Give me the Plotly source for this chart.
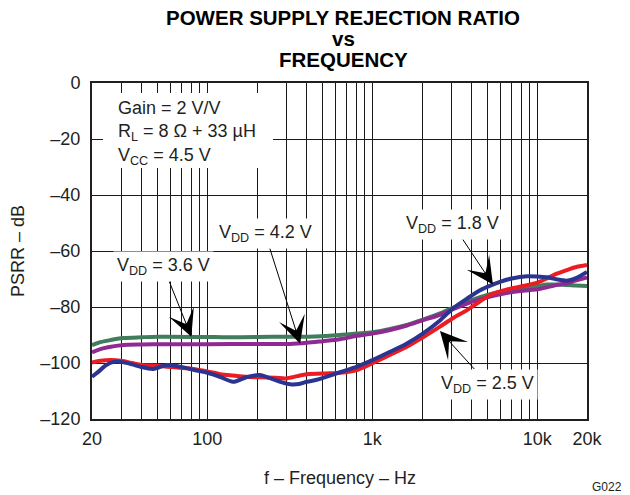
import numpy as np
import plotly.graph_objects as go

# ---------------- data ----------------
freq_18 = [20, 22, 24, 27, 30, 35, 39, 47, 57, 68, 86, 100, 120, 143, 174, 208, 240, 280, 317, 360, 402, 460,
           554, 637, 807, 1000, 1280, 1620, 2030, 2570, 3080, 3750, 4500, 5380, 5940, 7000, 8650, 10000,
           11430, 13000, 15100, 17000, 20000]
psrr_18 = [-104.9, -103.0, -101.0, -99.6, -99.6, -100.5, -101.3, -102.1, -100.7, -101.3, -102.7, -103.5, -105.0,
           -106.7, -105.0, -104.3, -105.4, -106.8, -107.6, -107.5, -106.7, -106.0,
           -104.5, -103.3, -101.3, -99.0, -96.0, -93.0, -89.4, -84.8, -80.5, -77.0, -74.0, -72.0, -71.0, -69.8, -69.0, -69.1,
           -69.4, -70.1, -70.6, -69.8, -67.5]

freq_25 = [20, 22, 26, 30, 35, 40, 50, 57, 70, 82, 100, 120, 143, 175, 208, 260, 300, 350, 400, 554, 637, 807,
           1000, 1280, 1620, 2030, 2570, 3080, 3750, 4500, 5170, 6500, 8180, 10000, 11430, 13000, 15100, 17000, 20000]
psrr_25 = [-99.8, -99.3, -98.9, -99.2, -100.0, -100.7, -101.0, -101.3, -101.8, -102.1, -103.0, -104.0, -104.5,
           -105.0, -105.1, -105.3, -105.5, -104.7, -104.0, -103.7, -103.5, -102.5,
           -100.1, -97.1, -94.2, -90.8, -87.0, -84.0, -81.1, -78.0, -75.7, -73.8, -72.5, -71.3, -69.8, -68.2, -66.8, -65.8, -65.0]

freq_36 = [20, 22, 25, 31, 40, 50, 100, 124, 200, 317, 450, 637, 807, 1000, 1280, 1620, 2030, 2570, 3080, 3750,
           4500, 5170, 6500, 8180, 10000, 11430, 13000, 15100, 17000, 20000]
psrr_36 = [-93.6, -92.7, -92.0, -91.1, -90.8, -90.6, -90.7, -90.8, -90.7, -90.6, -90.5, -90.0, -89.5, -89.0,
           -87.8, -86.4, -84.5, -82.3, -80.3, -78.1, -76.5, -75.4, -74.2, -73.3, -72.6, -72.0, -72.0, -72.1, -72.3, -72.5]

freq_42 = [20, 22, 25, 31, 40, 50, 100, 200, 317, 400, 500, 637, 807, 1000, 1280, 1620, 2030, 2570, 3080, 3750,
           4500, 5170, 6500, 8180, 10000, 11430, 13000, 15100, 17000, 20000]
psrr_42 = [-96.2, -95.2, -94.4, -93.6, -93.4, -93.3, -93.3, -93.2, -93.2, -92.8, -92.2, -91.5, -90.3, -89.5,
           -88.2, -86.6, -84.7, -82.8, -80.8, -78.8, -77.3, -76.3, -75.0, -74.2, -73.7, -73.0, -72.2, -71.5, -70.6, -69.4]

x_tickvals = [20, 100, 1000, 10000, 20000]
x_ticktext = ["20", "100", "1k", "10k", "20k"]
x_minor = [30, 40, 50, 60, 70, 80, 90, 200, 300, 400, 500, 600, 700, 800, 900,
           2000, 3000, 4000, 5000, 6000, 7000, 8000, 9000]
y_tickvals = [0, -20, -40, -60, -80, -100, -120]
y_ticktext = ["0", "\u201320", "\u201340", "\u201360", "\u201380", "\u2013100", "\u2013120"]

title_lines = ["POWER SUPPLY REJECTION RATIO", "vs", "FREQUENCY"]
cond_text = "Gain = 2 V/V<br>R<sub>L</sub> = 8 \u03a9 + 33 \u00b5H<br>V<sub>CC</sub> = 4.5 V"

FONT = "Arial, Liberation Sans, Helvetica, sans-serif"
TXT = "#231f20"
FS = 18

GREEN = "#3f7d5c"
PURPLE = "#8e2a92"
RED = "#ec1c24"
BLUE = "#2b3590"

# plot area in pixels (for placing annotations in paper units)
L, R, T, B = 92, 587, 83, 419
W, H = R - L, B - T


def px(xp):
    return (xp - L) / W


def py(yp):
    return (B - yp) / H


fig = go.Figure()
for f, v, c in [(freq_36, psrr_36, GREEN), (freq_42, psrr_42, PURPLE),
                (freq_25, psrr_25, RED), (freq_18, psrr_18, BLUE)]:
    fig.add_trace(go.Scatter(x=f, y=v, mode="lines",
                             line=dict(color=c, width=4, shape="spline", smoothing=0.8),
                             showlegend=False, hoverinfo="skip"))

fig.update_layout(
    width=630, height=495,
    margin=dict(l=L, r=630 - R, t=T, b=495 - B),
    paper_bgcolor="white", plot_bgcolor="white",
    font=dict(family=FONT, size=FS, color=TXT),
    showlegend=False,
)
fig.update_xaxes(
    type="log", range=[np.log10(20), np.log10(20000)],
    tickvals=x_tickvals, ticktext=x_ticktext,
    showgrid=True, gridcolor="#1a1a1a", gridwidth=1,
    minor=dict(tickvals=x_minor, showgrid=True, gridcolor="#1a1a1a", gridwidth=1, ticks=""),
    ticks="outside", ticklen=2, tickcolor="rgba(0,0,0,0)",
    showline=True, linecolor="#231f20", linewidth=2, mirror=True,
    zeroline=False, tickfont=dict(size=FS),
)
fig.update_yaxes(
    range=[-120, 0], tickvals=y_tickvals, ticktext=y_ticktext,
    showgrid=True, gridcolor="#1a1a1a", gridwidth=1,
    ticks="outside", ticklen=6, tickcolor="rgba(0,0,0,0)",
    showline=True, linecolor="#231f20", linewidth=2, mirror=True,
    zeroline=False, tickfont=dict(size=FS),
)

# white box behind the conditions text (hides gridlines)
fig.add_shape(type="rect", xref="paper", yref="paper",
              x0=px(103), x1=px(273), y0=py(168), y1=py(93),
              fillcolor="white", line=dict(width=0), layer="above")

ann = []
# title
for txt, ypix in zip(title_lines, [17, 38, 59]):
    ann.append(dict(text="<b>" + txt + "</b>", xref="paper", yref="paper",
                    x=px(343), y=py(ypix), xanchor="center", yanchor="middle",
                    showarrow=False, font=dict(size=20.5, color="#000000")))
# axis titles
ann.append(dict(text="f \u2013 Frequency \u2013 Hz", xref="paper", yref="paper",
                x=px(340), y=py(478), xanchor="center", yanchor="middle",
                showarrow=False, font=dict(size=FS)))
ann.append(dict(text="PSRR \u2013 dB", xref="paper", yref="paper",
                x=px(18), y=0.5, xanchor="center", yanchor="middle", textangle=-90,
                showarrow=False, font=dict(size=FS)))
ann.append(dict(text="G022", xref="paper", yref="paper",
                x=px(607), y=py(487), xanchor="center", yanchor="middle",
                showarrow=False, font=dict(size=12)))
# conditions text
ann.append(dict(text=cond_text, xref="paper", yref="paper", align="left",
                x=px(116), y=py(96), xanchor="left", yanchor="top",
                showarrow=False, font=dict(size=FS)))

# V_DD labels with arrows (tip on curve, text offset in pixels)
labels = [("3.6", 80, -90.6, -28, -70),
          ("4.2", 365, -93.1, -35, -110),
          ("1.8", 5380, -72.0, -40, -60),
          ("2.5", 2570, -88.6, 48, 53)]
for v, fx, fy, ax, ay in labels:
    ann.append(dict(text="V<sub>DD</sub> = " + v + " V", x=np.log10(fx), y=fy, xref="x", yref="y",
                    ax=ax, ay=ay, showarrow=True, arrowhead=3, arrowsize=4.5, arrowwidth=1,
                    arrowcolor="#000000", bgcolor="white", borderpad=3, font=dict(size=FS)))

fig.update_layout(annotations=ann)
fig.write_html("out.html", config={"displayModeBar": False},
               post_script="document.body.style.margin='0px';")
